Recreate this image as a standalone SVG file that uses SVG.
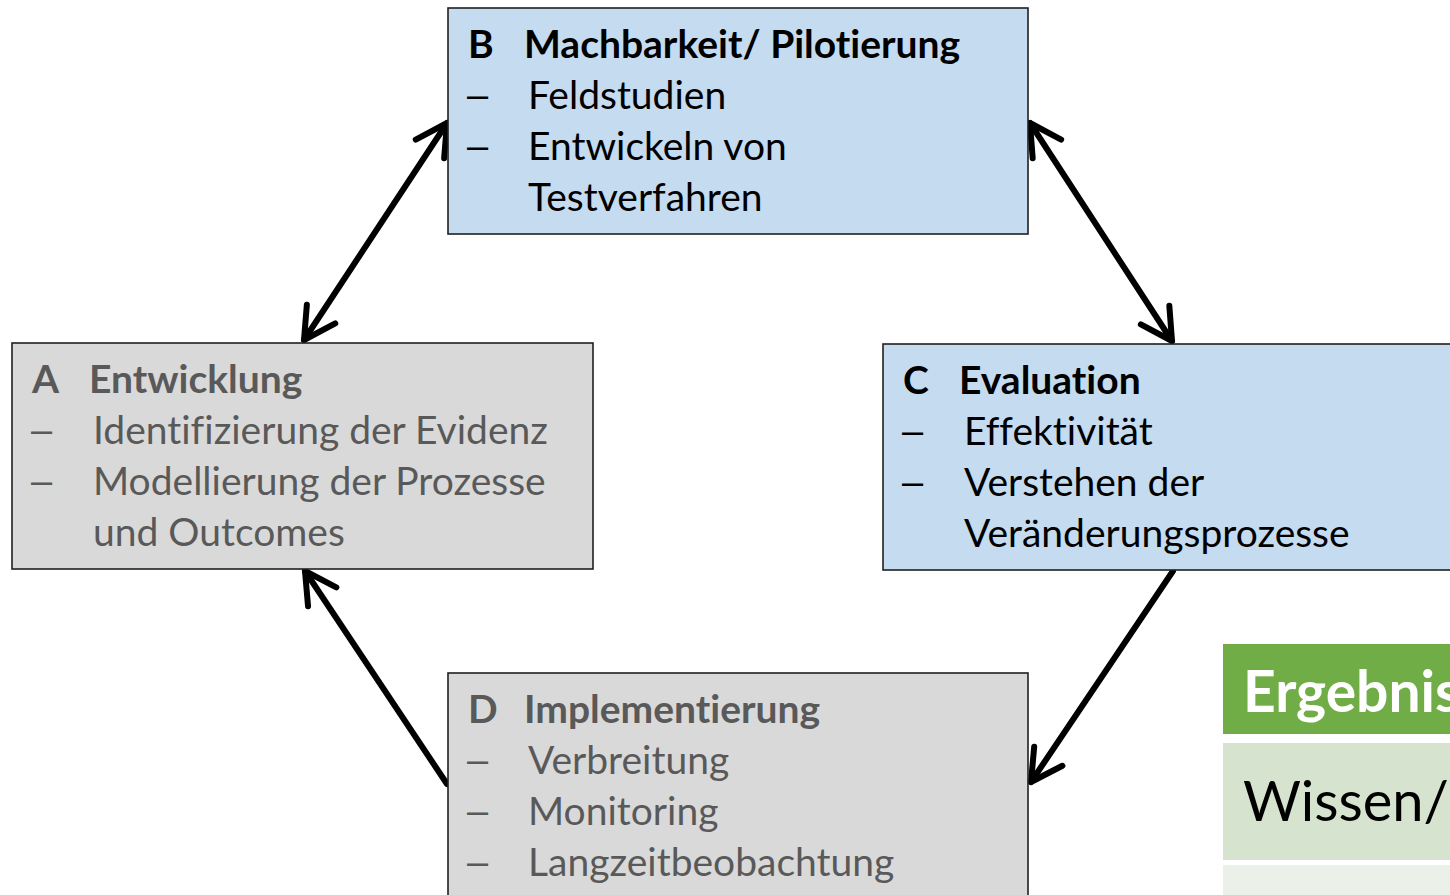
<svg xmlns="http://www.w3.org/2000/svg" width="1450" height="895" viewBox="0 0 1450 895">
<style>
.box{stroke:#202020;stroke-width:1.6}
.blue{fill:#c5dbf0}
.grey{fill:#d9d9d9}
.t{font-family:Lato,"Liberation Sans",sans-serif;font-size:39px;font-variant-ligatures:none;font-feature-settings:"liga" 0}
.d{font-family:"Liberation Sans",sans-serif;font-size:38px}
.b{font-weight:bold}
.dk{fill:#000}
.gr{fill:#595959}
.conn{stroke:#000;stroke-width:6;fill:none;stroke-linecap:round}
</style>
<defs>
<marker id="ah" markerUnits="userSpaceOnUse" viewBox="-40 -25 50 50" refX="0" refY="0" markerWidth="50" markerHeight="50" orient="auto-start-reverse" overflow="visible">
<path d="M -31 -17 L 0 0 L -31 17" fill="none" stroke="#000" stroke-width="6" stroke-linecap="round" stroke-linejoin="round"/>
</marker>
</defs>
<rect width="1450" height="895" fill="#fff"/>
<g id="connectors">
<line class="conn" x1="304" y1="340" x2="447" y2="123" marker-start="url(#ah)" marker-end="url(#ah)"/>
<line class="conn" x1="1030" y1="123" x2="1172" y2="341" marker-start="url(#ah)" marker-end="url(#ah)"/>
<line class="conn" x1="1173" y1="571" x2="1031" y2="782" marker-end="url(#ah)"/>
<line class="conn" x1="447" y1="784" x2="305" y2="571" marker-end="url(#ah)"/>
</g>
<g id="nodeB">
<rect class="box blue" x="448" y="8" width="580" height="226"/>
<text class="t b dk" x="468" y="58">B</text>
<text class="t b dk" x="524" y="58">Machbarkeit/ Pilotierung</text>
<text class="d dk" x="467" y="108">–</text>
<text class="t dk" x="528" y="109">Feldstudien</text>
<text class="d dk" x="467" y="159">–</text>
<text class="t dk" x="528" y="160">Entwickeln von</text>
<text class="t dk" x="528" y="211">Testverfahren</text>
</g>
<g id="nodeA">
<rect class="box grey" x="12" y="343" width="581" height="226"/>
<text class="t b gr" x="32" y="393">A</text>
<text class="t b gr" x="89" y="393">Entwicklung</text>
<text class="d gr" x="31" y="443">–</text>
<text class="t gr" x="93" y="444">Identifizierung der Evidenz</text>
<text class="d gr" x="31" y="494">–</text>
<text class="t gr" x="93" y="495">Modellierung der Prozesse</text>
<text class="t gr" x="93" y="546">und Outcomes</text>
</g>
<g id="nodeC">
<rect class="box blue" x="883" y="344" width="580" height="226"/>
<text class="t b dk" x="903" y="394">C</text>
<text class="t b dk" x="959" y="394">Evaluation</text>
<text class="d dk" x="902" y="444">–</text>
<text class="t dk" x="964" y="445">Effektivität</text>
<text class="d dk" x="902" y="495">–</text>
<text class="t dk" x="964" y="496">Verstehen der</text>
<text class="t dk" x="964" y="547">Veränderungsprozesse</text>
</g>
<g id="nodeD">
<rect class="box grey" x="448" y="673" width="580" height="240"/>
<text class="t b gr" x="468" y="723">D</text>
<text class="t b gr" x="524" y="723">Implementierung</text>
<text class="d gr" x="467" y="773">–</text>
<text class="t gr" x="528" y="774">Verbreitung</text>
<text class="d gr" x="467" y="824">–</text>
<text class="t gr" x="528" y="825">Monitoring</text>
<text class="d gr" x="467" y="875">–</text>
<text class="t gr" x="528" y="876">Langzeitbeobachtung</text>
</g>
<g id="results">
<rect x="1223" y="644" width="240" height="90" fill="#70ad47"/>
<rect x="1223" y="743" width="240" height="117" fill="#d6e3cf"/>
<rect x="1223" y="865" width="240" height="40" fill="#ebf1e8"/>
<text class="t b" x="1243" y="712" style="font-size:57px;fill:#fff">Ergebnis</text>
<text class="t" x="1243" y="821" style="font-size:56px;fill:#000">Wissen/</text>
</g>
</svg>
